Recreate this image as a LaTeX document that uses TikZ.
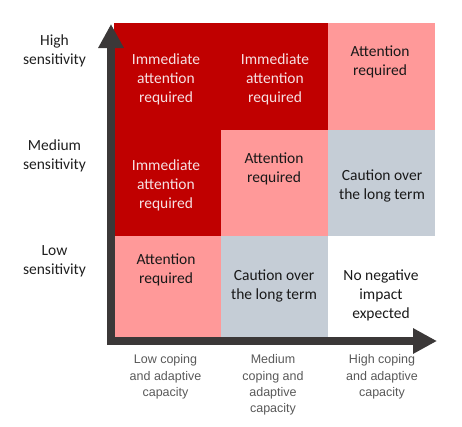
\documentclass[tikz,border=0pt]{standalone}
\usepackage{fontspec}
\usepackage{tikz}
\usetikzlibrary{arrows.meta}
\setmainfont{Carlito}
\newfontfamily\capfont{Liberation Sans}
\definecolor{urgent}{HTML}{C00000}
\definecolor{attend}{HTML}{FF9999}
\definecolor{caution}{HTML}{C5CDD6}
\definecolor{axisgray}{HTML}{3B3838}
\definecolor{paletext}{HTML}{F6E0E2}
\definecolor{capgray}{HTML}{595959}

\begin{document}
\begin{tikzpicture}[x=1pt,y=-1pt,
  celltext/.style={anchor=north, align=center, inner sep=0pt, font=\fontsize{15.5}{19}\selectfont, text=black!90},
  urgenttext/.style={celltext, text=paletext},
  senslabel/.style={anchor=north, align=center, inner sep=0pt, font=\fontsize{15.5}{19}\selectfont, text=black!88},
  caplabel/.style={anchor=north, align=center, inner sep=0pt, font=\capfont\fontsize{12.5}{16.4}\selectfont, text=capgray}]
\useasboundingbox (0,0) rectangle (462,426);
\fill[urgent] (114,23) rectangle (328,130);
\fill[attend] (328,23) rectangle (435,130);
\fill[urgent] (114,130) rectangle (221,236);
\fill[attend] (221,130) rectangle (328,236);
\fill[caution] (328,130) rectangle (435,236);
\fill[attend] (114,236) rectangle (221,341);
\fill[caution] (221,236) rectangle (328,341);
\node[urgenttext](t11) at (166,53.5) {Immediate\\attention\\required};
\node[urgenttext](t12) at (275,53.5) {Immediate\\attention\\required};
\node[celltext](t13) at (380,46) {Attention\\required};
\node[urgenttext](t21) at (166,159.5) {Immediate\\attention\\required};
\node[celltext](t22) at (274,152.5) {Attention\\required};
\node[celltext](t23) at (382,169.5) {Caution over\\the long term};
\node[celltext](t31) at (166,253.5) {Attention\\required};
\node[celltext](t32) at (274,269.5) {Caution over\\the long term};
\node[celltext](t33) at (381,269.5) {No negative\\impact\\expected};
\node[senslabel](high) at (54.5,34.5) {High\\sensitivity};
\node[senslabel](medium) at (54.5,139.5) {Medium\\sensitivity};
\node[senslabel](low) at (54.5,245.5) {Low\\sensitivity};
\node[caplabel](lowcap) at (165.5,354.5) {Low coping\\and adaptive\\capacity};
\node[caplabel](medcap) at (273,354.5) {Medium\\coping and\\adaptive\\capacity};
\node[caplabel](highcap) at (382,354.5) {High coping\\and adaptive\\capacity};
\coordinate (ytip) at (111,24);
\coordinate (origin) at (111,341);
\coordinate (xtip) at (437,341);
\draw[axisgray, line width=8pt, {Triangle[width=24pt,length=24pt]}-{Triangle[width=24pt,length=24pt]}] (ytip) -- (origin) -- (xtip);
\end{tikzpicture}
\end{document}
